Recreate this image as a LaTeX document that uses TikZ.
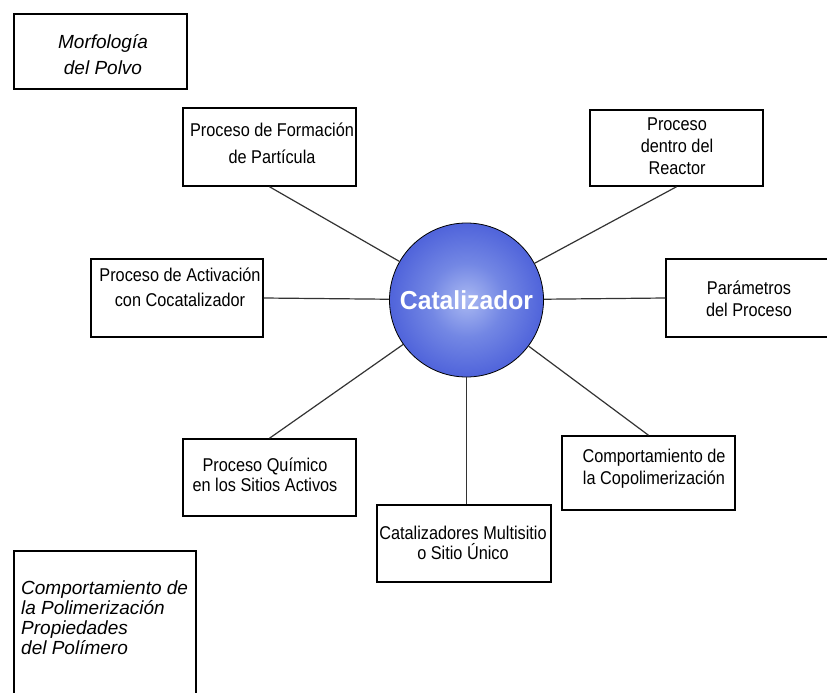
\documentclass[tikz,border=0pt]{standalone}
\usepackage{fontspec}
\setmainfont{Liberation Sans}
\newfontfamily\boxfont[FakeStretch=0.88]{Liberation Sans}
\newfontfamily\catfont[FakeStretch=0.95]{Liberation Sans}
\definecolor{catin}{RGB}{170,185,242}
\definecolor{catmid}{RGB}{115,135,228}
\definecolor{catdeep}{RGB}{55,75,212}
\definecolor{catout}{RGB}{28,42,188}
\pgfdeclareradialshading{catshade}{\pgfpoint{0bp}{0bp}}{color(0bp)=(catin); color(12bp)=(catmid); color(34bp)=(catdeep); color(50bp)=(catout)}
\tikzset{
  box/.style={draw=black, line width=1.5pt, inner sep=0pt, fill=white},
  txt/.style={font=\boxfont\fontsize{18.5}{#1}\selectfont, align=center, inner sep=0pt},
  itxt/.style={font=\itshape\fontsize{19}{#1}\selectfont, inner sep=0pt},
  link/.style={draw=black!80, line width=1.2pt}
}
\begin{document}
\begin{tikzpicture}[x=1pt,y=-1pt]
\clip (0,0) rectangle (827,693);
\fill[white] (0,0) rectangle (827,693);

% circle
\node[circle, minimum size=154pt, inner sep=0pt, draw=black, line width=0.8pt, shading=catshade, text=white,
      font=\catfont\bfseries\fontsize{26}{30}\selectfont] (cat) at (466.5,300) {Catalizador};

% boxes
\node[box, minimum width=173pt, minimum height=75pt] (morf) at (100.5,51.5) {};
\node[box, minimum width=173pt, minimum height=78pt] (form) at (269.5,147) {};
\node[box, minimum width=173pt, minimum height=76pt] (reac) at (676.5,148) {};
\node[box, minimum width=172pt, minimum height=78pt] (acti) at (177,298) {};
\node[box, minimum width=173pt, minimum height=78pt] (para) at (752.5,298) {};
\node[box, minimum width=173pt, minimum height=77pt] (quim) at (269.5,477.5) {};
\node[box, minimum width=173pt, minimum height=74pt] (copo) at (648.5,473) {};
\node[box, minimum width=174pt, minimum height=77pt] (cata) at (464,543.5) {};
\node[box, minimum width=182pt, minimum height=158pt] (comp) at (105,630) {};

% connectors
\draw[link] (form.south) -- (cat);
\draw[link] (reac.south) -- (cat);
\draw[link] (acti.east) -- (cat);
\draw[link] (para.west) -- (cat);
\draw[link] (quim.north) -- (cat);
\draw[link] (copo.north) -- (cat);
\draw[link] (cat.south) -- (cat.south |- cata.north);

% texts
\node[itxt=26, align=center] (morfT) at (103,55) {Morfología\\del Polvo};
\node[txt=27] (formT) at (272,143.5) {Proceso de Formación\\de Partícula};
\node[txt=22] (reacT) at (677,146.5) {Proceso\\dentro del\\Reactor};
\node[txt=25] (actiT) at (180,287.5) {Proceso de Activación\\con Cocatalizador};
\node[txt=22] (paraT) at (749,299) {Parámetros\\del Proceso};
\node[txt=20] (quimT) at (265,475) {Proceso Químico\\en los Sitios Activos};
\node[txt=22] (copoT) at (654,469) {Comportamiento de\\la Copolimerización};
\node[txt=20] (cataT) at (463,543) {Catalizadores Multisitio\\o Sitio Único};
\node[itxt=20, align=left, anchor=west] (compT) at (21,618) {Comportamiento de\\la Polimerización\\Propiedades\\del Polímero};
\end{tikzpicture}
\end{document}
